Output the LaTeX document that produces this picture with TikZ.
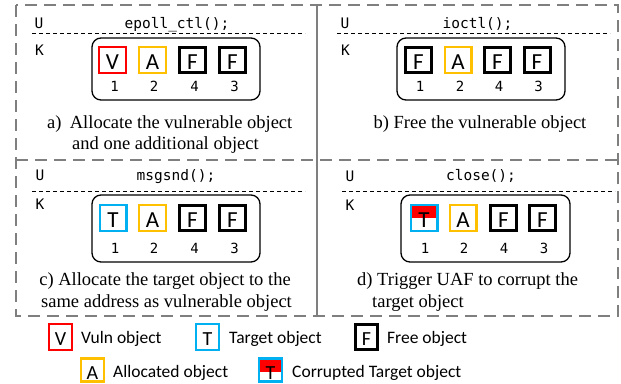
\documentclass[tikz,border=0pt]{standalone}
\usepackage{fontspec}
\setmainfont{Liberation Serif}
\newfontfamily\codefont{DejaVu Sans Mono}
\newfontfamily\objfont{Carlito}
\definecolor{vred}{HTML}{FF0000}
\definecolor{vorange}{HTML}{FFC000}
\definecolor{vblue}{HTML}{00B0F0}
\definecolor{pgrey}{HTML}{7F7F7F}
\begin{document}
\begin{tikzpicture}[x=1pt,y=-1pt,
  panel/.style={draw=pgrey,line width=2.6pt,dash pattern=on 12pt off 7pt},
  divider/.style={draw=pgrey,line width=2.6pt},
  sepline/.style={draw=black,line width=0.9pt,dash pattern=on 4pt off 3pt},
  mem/.style={draw=black,line width=1.3pt,rounded corners=9pt},
  obj/.style={line width=2.4pt,minimum width=26.6pt,minimum height=25.6pt,inner sep=0pt,
    text height=19pt,text depth=0pt,font=\objfont\fontsize{23}{23}\selectfont},
  vobj/.style={obj,draw=vred},
  aobj/.style={obj,draw=vorange},
  tobj/.style={obj,draw=vblue},
  fobj/.style={obj,draw=black,line width=3pt,minimum width=26pt,minimum height=25pt},
  cobj/.style={tobj,path picture={\fill[vred] (path picture bounding box.north west) rectangle (path picture bounding box.east);}},
  code/.style={font=\codefont\fontsize{14.5}{17}\selectfont,inner sep=0pt,anchor=base},
  digit/.style={font=\codefont\fontsize{14}{16}\selectfont,inner sep=0pt,anchor=base},
  capt/.style={font=\fontsize{18.5}{21}\selectfont,inner sep=0pt},
  legtxt/.style={font=\objfont\fontsize{17.5}{20}\selectfont,inner sep=0pt,anchor=base west},
  lobj/.style={line width=2.2pt,minimum width=22.8pt,minimum height=25.8pt,inner sep=0pt,
    text height=16pt,text depth=0pt,font=\objfont\fontsize{20}{20}\selectfont},
  lobjlow/.style={lobj,minimum height=23pt,text height=18pt},
]
\useasboundingbox (0,0) rectangle (621,383);
% panels
\draw[panel] (16,5) rectangle (618,316);
\draw[panel] (16,160) -- (618,160);
\draw[divider] (317,5) -- (317,316);

% ---------- panel a ----------
\node[code] (aU) at (39,28) {U};
\node[code] (aK) at (39.5,55) {K};
\node[code] (aC) at (177,28) {epoll\_ctl();};
\draw[sepline] (32,33) -- (305,33);
\draw[mem] (92,38) rectangle (260,100);
\node[vobj] (a1) at (112.5,60) {V};
\node[aobj] (a2) at (152.5,60) {A};
\node[fobj] (a3) at (192.5,60) {F};
\node[fobj] (a4) at (232.5,60) {F};
\node[digit] (a1n) at (114.5,91) {1};
\node[digit] (a2n) at (154,91) {2};
\node[digit] (a3n) at (194.5,91) {4};
\node[digit] (a4n) at (234.5,91) {3};
\node[capt,anchor=base west] (acap1) at (47,128) {a)\hspace{0.45em}Allocate the vulnerable object};
\node[capt,anchor=base west] (acap2) at (72,149) {and one additional object};

% ---------- panel b ----------
\node[code] (bU) at (345,28) {U};
\node[code] (bK) at (345.5,55) {K};
\node[code] (bC) at (477.5,28) {ioctl();};
\draw[sepline] (337,33) -- (610,33);
\draw[mem] (397,38) rectangle (565,100);
\node[fobj] (b1) at (418.5,60) {F};
\node[aobj] (b2) at (458,60) {A};
\node[fobj] (b3) at (497.5,60) {F};
\node[fobj] (b4) at (537,60) {F};
\node[digit] (b1n) at (420,91) {1};
\node[digit] (b2n) at (460,91) {2};
\node[digit] (b3n) at (499,91) {4};
\node[digit] (b4n) at (538.5,91) {3};
\node[capt,anchor=base] (bcap) at (480,128) {b) Free the vulnerable object};

% ---------- panel c ----------
\node[code] (cU) at (40,180) {U};
\node[code] (cK) at (40,209) {K};
\node[code] (cC) at (176,180) {msgsnd();};
\draw[sepline] (32,191) -- (305,191);
\draw[mem] (92,195) rectangle (260,262);
\node[tobj] (c1) at (113,218) {T};
\node[aobj] (c2) at (152.5,218) {A};
\node[fobj] (c3) at (192.5,218) {F};
\node[fobj] (c4) at (232.5,218) {F};
\node[digit] (c1n) at (115,253) {1};
\node[digit] (c2n) at (154,253) {2};
\node[digit] (c3n) at (194.5,253) {4};
\node[digit] (c4n) at (234.5,253) {3};
\node[capt,anchor=base] (ccap1) at (165,285) {c) Allocate the target object to the};
\node[capt,anchor=base] (ccap2) at (166.5,307) {same address as vulnerable object};

% ---------- panel d ----------
\node[code] (dU) at (350,181) {U};
\node[code] (dK) at (350,210) {K};
\node[code] (dC) at (481,180) {close();};
\draw[sepline] (342,191) -- (615,191);
\draw[mem] (401,195) rectangle (570,262);
\node[cobj] (d1) at (424,218) {T};
\node[aobj] (d2) at (463,218) {A};
\node[fobj] (d3) at (503.5,218) {F};
\node[fobj] (d4) at (542.5,218) {F};
\node[digit] (d1n) at (425,253) {1};
\node[digit] (d2n) at (464,253) {2};
\node[digit] (d3n) at (504,253) {4};
\node[digit] (d4n) at (544,253) {3};
\node[capt,anchor=base west] (dcap1) at (357,285) {d) Trigger UAF to corrupt the};
\node[capt,anchor=base west] (dcap2) at (372,307) {target object};

% ---------- legend ----------
\node[lobj,draw=vred] (lV) at (60.5,337) {V};
\node[legtxt] (lVt) at (81,343) {Vuln object};
\node[lobj,draw=vblue] (lT) at (207.5,337) {T};
\node[legtxt] (lTt) at (229,343) {Target object};
\node[lobj,draw=black,line width=3pt,minimum width=22pt,minimum height=25pt] (lF) at (366.5,337) {F};
\node[legtxt] (lFt) at (387,343) {Free object};
\node[lobjlow,draw=vorange] (lA) at (92.5,370) {A};
\node[legtxt] (lAt) at (113,377) {Allocated object};
\node[lobjlow,draw=vblue,path picture={\fill[vred] (path picture bounding box.north west) rectangle ([yshift=-2pt]path picture bounding box.east);}] (lC) at (270.5,370) {T};
\node[legtxt] (lCt) at (292,377) {Corrupted Target object};
\end{tikzpicture}
\end{document}
